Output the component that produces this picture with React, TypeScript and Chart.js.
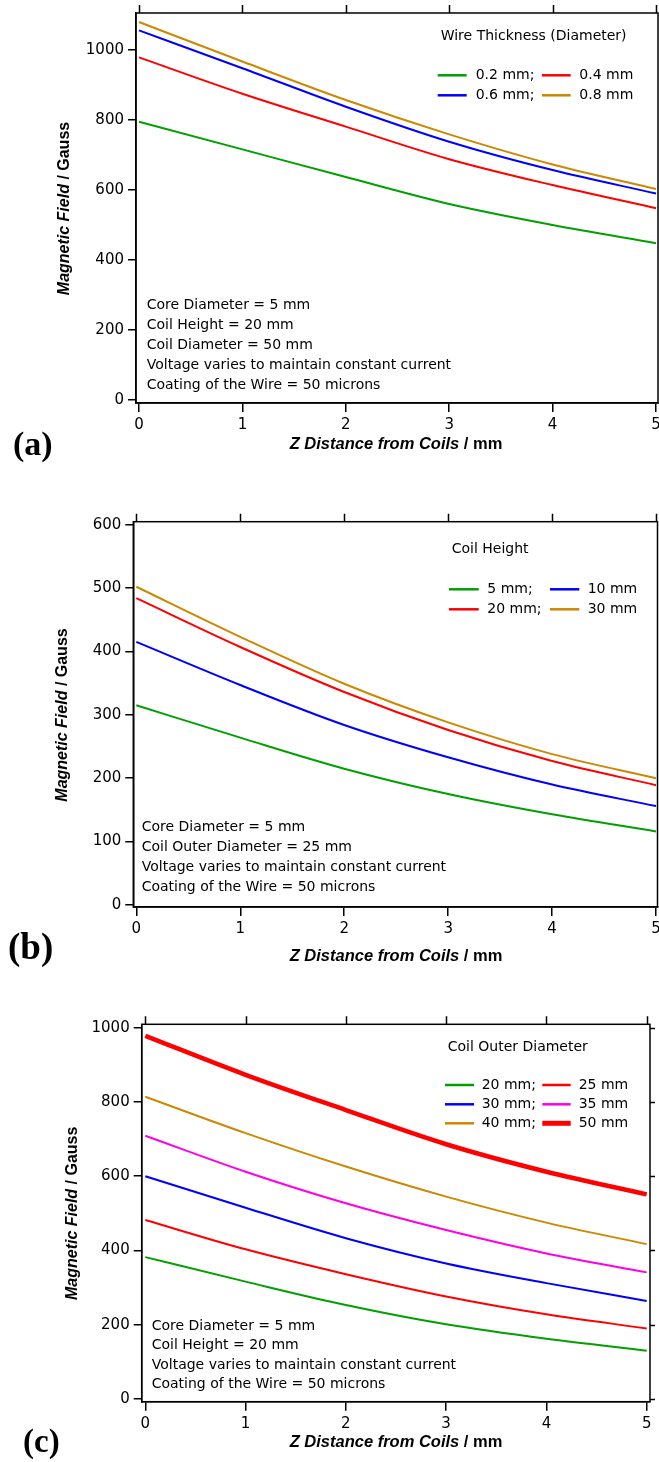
import React, { useEffect, useRef } from "react";
import { Chart, registerables } from "chart.js";

Chart.register(...registerables);

// ---------------- data ----------------
const zDistance = [0, 1, 2, 3, 4, 5];
const xTickValues = [0, 1, 2, 3, 4, 5];

// (a) Wire thickness (diameter)
const wireLabels = ["0.2 mm", "0.4 mm", "0.6 mm", "0.8 mm"];
const wire02 = [795, 716, 637, 560, 500, 448];
const wire04 = [979, 875, 781, 688, 614, 548];
const wire06 = [1056, 948, 838, 738, 657, 590];
const wire08 = [1080, 967, 857, 759, 673, 603];
const yTicksA = [0, 200, 400, 600, 800, 1000];

// (b) Coil height
const heightLabels = ["5 mm", "10 mm", "20 mm", "30 mm"];
const height5 = [315, 264, 215, 175, 143, 116];
const height10 = [415, 347, 284, 233, 190, 156];
const height20 = [484, 407, 336, 276, 227, 189];
const height30 = [502, 423, 349, 288, 238, 200];
const yTicksB = [0, 100, 200, 300, 400, 500, 600];

// (c) Coil outer diameter
const outerLabels = ["20 mm", "25 mm", "30 mm", "35 mm", "40 mm", "50 mm"];
const outer20 = [382, 316, 253, 201, 162, 130];
const outer25 = [482, 403, 336, 276, 228, 190];
const outer30 = [600, 515, 433, 365, 312, 264];
const outer35 = [709, 612, 527, 455, 392, 341];
const outer40 = [814, 716, 626, 545, 475, 417];
const outer50 = [978, 873, 778, 686, 612, 551];
const yTicksC = [0, 200, 400, 600, 800, 1000];

const notesA = [
  "Core Diameter = 5 mm",
  "Coil Height = 20 mm",
  "Coil Diameter = 50 mm",
  "Voltage varies to maintain constant current",
  "Coating of the Wire = 50 microns",
];
const notesB = [
  "Core Diameter = 5 mm",
  "Coil Outer Diameter = 25 mm",
  "Voltage varies to maintain constant current",
  "Coating of the Wire = 50 microns",
];
const notesC = [
  "Core Diameter = 5 mm",
  "Coil Height = 20 mm",
  "Voltage varies to maintain constant current",
  "Coating of the Wire = 50 microns",
];

// ---------------- styles ----------------
const GREEN = "#00a000";
const RED = "#ff0000";
const BLUE = "#0000ff";
const GOLD = "#cc8800";
const MAGENTA = "#ff00e6";

const SANS = '"DejaVu Sans", sans-serif';
const BOLD_SANS = '"Liberation Sans", Arial, sans-serif';
const SERIF = '"Liberation Serif", "Times New Roman", serif';

const W = 659;

type Series = { label: string; values: number[]; color: string; width: number };

type PanelCfg = {
  top: number;
  height: number;
  plot: { left: number; right: number; top: number; bottom: number };
  xMin: number;
  xMax: number;
  yMin: number;
  yMax: number;
  yTicks: number[];
  series: Series[];
  legendOrder: number[];
  legendTitle: string;
  legendTitlePos: [number, number];
  legendRows: number[];
  legendCols: { lineX0: number; lineX1: number; textX: number }[];
  notes: string[];
  notesPos: [number, number];
  notesDy: number;
  panelLabel: string;
  panelLabelPos: [number, number];
  panelLabelSize: number;
  yTitleCenter: [number, number];
  xTitleCenter: [number, number];
  rightTicks: boolean;
};

const panels: PanelCfg[] = [
  {
    top: 0,
    height: 472,
    plot: { left: 136, right: 658, top: 13, bottom: 403 },
    xMin: -0.029,
    xMax: 5.019,
    yMin: -8.6,
    yMax: 1105.7,
    yTicks: yTicksA,
    series: [
      { label: wireLabels[0], values: wire02, color: GREEN, width: 2 },
      { label: wireLabels[1], values: wire04, color: RED, width: 2 },
      { label: wireLabels[2], values: wire06, color: BLUE, width: 2 },
      { label: wireLabels[3], values: wire08, color: GOLD, width: 2 },
    ],
    legendOrder: [0, 1, 2, 3],
    legendTitle: "Wire Thickness (Diameter)",
    legendTitlePos: [440.7, 36],
    legendRows: [75.3, 95.3],
    legendCols: [
      { lineX0: 437.7, lineX1: 466.7, textX: 475.7 },
      { lineX0: 542, lineX1: 570.7, textX: 579.3 },
    ],
    notes: notesA,
    notesPos: [146.7, 305.7],
    notesDy: 19.8,
    panelLabel: "(a)",
    panelLabelPos: [13, 455],
    panelLabelSize: 34,
    yTitleCenter: [64.5, 208.5],
    xTitleCenter: [396, 444.5],
    rightTicks: false,
  },
  {
    top: 486,
    height: 490,
    plot: { left: 133.3, right: 657.5, top: 521.7, bottom: 907 },
    xMin: -0.029,
    xMax: 5.014,
    yMin: -3.2,
    yMax: 604.6,
    yTicks: yTicksB,
    series: [
      { label: heightLabels[0], values: height5, color: GREEN, width: 2 },
      { label: heightLabels[1], values: height10, color: BLUE, width: 2 },
      { label: heightLabels[2], values: height20, color: RED, width: 2 },
      { label: heightLabels[3], values: height30, color: GOLD, width: 2 },
    ],
    legendOrder: [0, 1, 2, 3],
    legendTitle: "Coil Height",
    legendTitlePos: [451.7, 549],
    legendRows: [589.3, 609.3],
    legendCols: [
      { lineX0: 449, lineX1: 478.7, textX: 487.3 },
      { lineX0: 550, lineX1: 579.3, textX: 587.7 },
    ],
    notes: notesB,
    notesPos: [141.7, 827.5],
    notesDy: 20,
    panelLabel: "(b)",
    panelLabelPos: [8, 959],
    panelLabelSize: 37,
    yTitleCenter: [62.5, 715],
    xTitleCenter: [396, 956.5],
    rightTicks: false,
  },
  {
    top: 985,
    height: 477,
    plot: { left: 141.7, right: 650, top: 1024.3, bottom: 1401.7 },
    xMin: -0.036,
    xMax: 5.033,
    yMin: -7.3,
    yMax: 1009,
    yTicks: yTicksC,
    series: [
      { label: outerLabels[0], values: outer20, color: GREEN, width: 2 },
      { label: outerLabels[1], values: outer25, color: RED, width: 2 },
      { label: outerLabels[2], values: outer30, color: BLUE, width: 2 },
      { label: outerLabels[3], values: outer35, color: MAGENTA, width: 2 },
      { label: outerLabels[4], values: outer40, color: GOLD, width: 2 },
      { label: outerLabels[5], values: outer50, color: RED, width: 4.5 },
    ],
    legendOrder: [0, 1, 2, 3, 4, 5],
    legendTitle: "Coil Outer Diameter",
    legendTitlePos: [447.7, 1047],
    legendRows: [1085, 1104.3, 1123.3],
    legendCols: [
      { lineX0: 445, lineX1: 474, textX: 481.7 },
      { lineX0: 542.3, lineX1: 570.7, textX: 578.7 },
    ],
    notes: notesC,
    notesPos: [151.7, 1326.3],
    notesDy: 19.3,
    panelLabel: "(c)",
    panelLabelPos: [23, 1451.5],
    panelLabelSize: 33,
    yTitleCenter: [72.5, 1213.3],
    xTitleCenter: [396, 1442.5],
    rightTicks: true,
  },
];

type Part = { text: string; font: string };

function drawMixed(ctx: CanvasRenderingContext2D, parts: Part[], cx: number, cy: number, rotate: boolean) {
  ctx.save();
  ctx.translate(cx, cy);
  if (rotate) ctx.rotate(-Math.PI / 2);
  ctx.textBaseline = "middle";
  ctx.textAlign = "left";
  ctx.fillStyle = "#000";
  let total = 0;
  const widths = parts.map((p) => {
    ctx.font = p.font;
    const w = ctx.measureText(p.text).width;
    total += w;
    return w;
  });
  let x = -total / 2;
  parts.forEach((p, i) => {
    ctx.font = p.font;
    ctx.fillText(p.text, x, 0);
    x += widths[i];
  });
  ctx.restore();
}

function Panel({ cfg }: { cfg: PanelCfg }) {
  const ref = useRef<HTMLCanvasElement | null>(null);

  useEffect(() => {
    const canvas = ref.current;
    if (!canvas) return;
    const ct = cfg.top;
    const py = (y: number) => y - ct;

    const overlay = {
      id: "overlay",
      afterDraw(chart: any) {
        const ctx: CanvasRenderingContext2D = chart.ctx;
        const a = chart.chartArea;
        const xs = chart.scales.x;
        const ys = chart.scales.y;
        ctx.save();
        // frame
        ctx.strokeStyle = "#000";
        ctx.lineWidth = 1.5;
        ctx.strokeRect(a.left, a.top, a.right - a.left, a.bottom - a.top);
        // mirror ticks on top (and right for panel c)
        ctx.beginPath();
        xTickValues.forEach((v) => {
          const px = Math.round(xs.getPixelForValue(v)) + 0.5;
          ctx.moveTo(px, a.top);
          ctx.lineTo(px, a.top - 8);
        });
        if (cfg.rightTicks) {
          cfg.yTicks.forEach((v) => {
            const pyv = Math.round(ys.getPixelForValue(v)) + 0.5;
            ctx.moveTo(a.right, pyv);
            ctx.lineTo(a.right + 5, pyv);
          });
        }
        ctx.stroke();

        // legend title
        ctx.fillStyle = "#000";
        ctx.textBaseline = "middle";
        ctx.textAlign = "left";
        ctx.font = `14px ${SANS}`;
        ctx.fillText(cfg.legendTitle, cfg.legendTitlePos[0], py(cfg.legendTitlePos[1]));

        // legend entries
        cfg.legendOrder.forEach((di, k) => {
          const s = cfg.series[di];
          const row = Math.floor(k / 2);
          const col = k % 2;
          const c = cfg.legendCols[col];
          const yy = py(cfg.legendRows[row]);
          ctx.strokeStyle = s.color;
          ctx.lineWidth = s.width + 0.5;
          ctx.beginPath();
          ctx.moveTo(c.lineX0, yy);
          ctx.lineTo(c.lineX1, yy);
          ctx.stroke();
          ctx.fillStyle = "#000";
          ctx.font = `14px ${SANS}`;
          ctx.fillText(s.label + (col === 0 ? ";" : ""), c.textX, yy);
        });

        // notes
        ctx.font = `14px ${SANS}`;
        cfg.notes.forEach((n, i) => {
          ctx.fillText(n, cfg.notesPos[0], py(cfg.notesPos[1] + i * cfg.notesDy));
        });

        // panel label
        ctx.textBaseline = "alphabetic";
        ctx.font = `bold ${cfg.panelLabelSize}px ${SERIF}`;
        ctx.fillText(cfg.panelLabel, cfg.panelLabelPos[0], py(cfg.panelLabelPos[1]));
        ctx.restore();

        // axis titles
        drawMixed(
          ctx,
          [
            { text: "Magnetic Field", font: `italic bold 16px ${BOLD_SANS}` },
            { text: " / Gauss", font: `bold 16px ${BOLD_SANS}` },
          ],
          cfg.yTitleCenter[0],
          py(cfg.yTitleCenter[1]),
          true
        );
        drawMixed(
          ctx,
          [
            { text: "Z Distance from Coils", font: `italic bold 16.5px ${BOLD_SANS}` },
            { text: " / mm", font: `bold 16.5px ${BOLD_SANS}` },
          ],
          cfg.xTitleCenter[0],
          py(cfg.xTitleCenter[1]),
          false
        );
      },
    };

    const chart = new Chart(canvas, {
      type: "line",
      data: {
        datasets: cfg.series.map((s) => ({
          label: s.label,
          data: zDistance.map((x, i) => ({ x, y: s.values[i] })),
          borderColor: s.color,
          backgroundColor: s.color,
          borderWidth: s.width,
          pointRadius: 0,
          cubicInterpolationMode: "monotone" as const,
          fill: false,
        })),
      },
      options: {
        responsive: false,
        animation: false,
        devicePixelRatio: 1,
        layout: {
          padding: { left: 0, right: W - cfg.plot.right, top: cfg.plot.top - ct, bottom: 0 },
        },
        plugins: { legend: { display: false }, tooltip: { enabled: false } },
        scales: {
          x: {
            type: "linear",
            min: cfg.xMin,
            max: cfg.xMax,
            afterBuildTicks: (s: any) => {
              s.ticks = xTickValues.map((v) => ({ value: v }));
            },
            afterFit: (s: any) => {
              s.height = cfg.height - (cfg.plot.bottom - ct);
              s.paddingLeft = 0;
              s.paddingRight = 0;
            },
            ticks: {
              color: "#000",
              font: { family: SANS, size: 15 },
              padding: 4,
              maxRotation: 0,
              autoSkip: false,
              callback: (v: any) => String(v),
            },
            grid: {
              drawOnChartArea: false,
              drawTicks: true,
              tickLength: 9,
              color: "#000",
              lineWidth: 1.5,
            },
            border: { display: true, color: "#000", width: 1.5 },
          },
          y: {
            type: "linear",
            min: cfg.yMin,
            max: cfg.yMax,
            afterBuildTicks: (s: any) => {
              s.ticks = cfg.yTicks.map((v) => ({ value: v }));
            },
            afterFit: (s: any) => {
              s.width = cfg.plot.left;
              s.paddingTop = 0;
              s.paddingBottom = 0;
            },
            ticks: {
              color: "#000",
              font: { family: SANS, size: 15 },
              padding: 4,
              autoSkip: false,
              callback: (v: any) => String(v),
            },
            grid: {
              drawOnChartArea: false,
              drawTicks: true,
              tickLength: 8,
              color: "#000",
              lineWidth: 1.5,
            },
            border: { display: true, color: "#000", width: 1.5 },
          },
        },
      },
      plugins: [overlay],
    } as any);

    return () => chart.destroy();
  }, [cfg]);

  return (
    <canvas
      ref={ref}
      width={W}
      height={cfg.height}
      style={{ position: "absolute", left: 0, top: cfg.top, width: W, height: cfg.height, display: "block" }}
    />
  );
}

export default function App() {
  return (
    <div style={{ position: "absolute", left: 0, top: 0, width: W, height: 1462, background: "#fff" }}>
      {panels.map((p, i) => (
        <Panel key={i} cfg={p} />
      ))}
    </div>
  );
}
